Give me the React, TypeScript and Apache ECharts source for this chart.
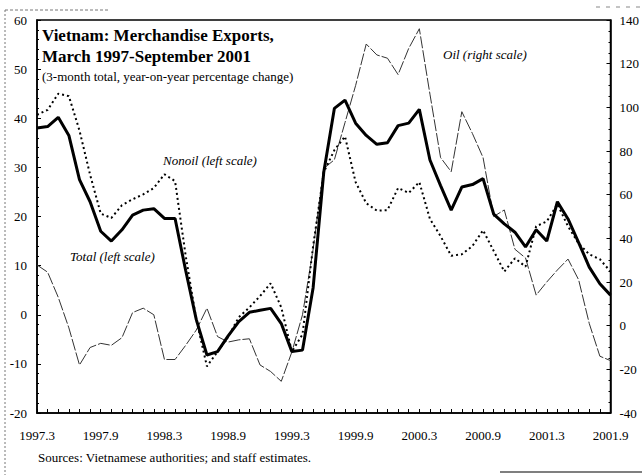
import React, { useEffect, useRef } from "react";
import * as echarts from "echarts";

// Monthly categories, March 1997 - September 2001
const startYear = 1997;
const startMonth = 3;
const monthCount = 55;
const months: string[] = [];
for (let k = 0; k < monthCount; k++) {
  const m = startMonth - 1 + k;
  months.push(`${startYear + Math.floor(m / 12)}.${(m % 12) + 1}`);
}

// Total (left scale), %
const total = [
  38, 38.3, 40.2, 36.5, 27.5, 23, 17, 15, 17.3, 20.3,
  21.3, 21.6, 19.6, 19.6, 9, -1, -8.2, -7.5, -4.3, -1.4,
  0.5, 0.9, 1.3, -1.8, -7.5, -7.2, 5.5, 29, 42, 43.7,
  39, 36.5, 34.7, 35, 38.5, 39, 41.8, 31.5, 26.3, 21.3,
  26, 26.5, 27.7, 20.5, 18.5, 16.8, 13.8, 17.3, 15, 23,
  19.5, 14.7, 9.7, 6.3, 4,
];

// Nonoil (left scale), %
const nonoil = [
  40.7, 41.7, 45, 44.5, 37.5, 28.5, 20.6, 19.7, 22.3, 23.5,
  24.5, 25.8, 28.6, 27.2, 12, -1, -10.5, -7.5, -4.5, -0.5,
  1.5, 3.8, 6.4, 1.5, -7.5, -4, 14, 29, 33.5, 36.3,
  27, 22.7, 21.2, 21.3, 25.8, 24.8, 27, 19.5, 16, 12,
  12.3, 14, 17.2, 13, 8.8, 11.5, 9.8, 18, 19, 22.5,
  18, 14.5, 12.3, 11.3, 8.8,
];

// Oil (right scale), %
const oil = [
  27.8, 24.5, 13, -1, -18, -10, -8.1, -9, -5.5, 6,
  8, 5, -15.5, -15.5, -9, -2, 8, -5, -7.5, -6.5,
  -6, -18, -21, -25.5, -12, 5, 35, 72, 76, 93,
  110, 129, 124, 122.5, 115, 127, 136, 106, 77, 70.5,
  98, 88, 77, 50, 53, 35, 31, 14, 20, 25.5,
  30.5, 21, 1, -14, -16,
];

const titleLines = [
  "Vietnam: Merchandise Exports,",
  "March 1997-September 2001",
  "(3-month total, year-on-year percentage change)",
];
const sourceText = "Sources: Vietnamese authorities; and staff estimates.";

const SERIF = "'Liberation Serif','Times New Roman',serif";

export default function App() {
  const ref = useRef<HTMLDivElement>(null);
  useEffect(() => {
    if (!ref.current) return;
    const chart = echarts.init(ref.current, undefined, { renderer: "svg" });
    const axisText = { color: "#000", fontFamily: SERIF, fontSize: 13 };
    const option: any = {
      animation: false,
      backgroundColor: "#fff",
      grid: {
        left: 37,
        right: 25,
        top: 20,
        bottom: 62,
        show: true,
        borderColor: "#000",
        borderWidth: 1.5,
      },
      xAxis: {
        type: "category",
        data: months,
        boundaryGap: false,
        axisLine: { onZero: false, lineStyle: { color: "#000", width: 1.5 } },
        axisTick: { interval: 0, inside: true, length: 4, lineStyle: { color: "#000" } },
        axisLabel: { interval: 5, margin: 16, ...axisText },
        splitLine: { show: false },
      },
      yAxis: [
        {
          type: "value",
          min: -20,
          max: 60,
          interval: 10,
          position: "left",
          axisLine: { show: true, lineStyle: { color: "#000", width: 1.5 } },
          axisTick: { show: true, inside: true, length: 4, lineStyle: { color: "#000" } },
          minorTick: { show: true, splitNumber: 5, length: 2, lineStyle: { color: "#000" } },
          axisLabel: { margin: 10, ...axisText },
          splitLine: { show: false },
        },
        {
          type: "value",
          min: -40,
          max: 140,
          interval: 20,
          position: "right",
          axisLine: { show: true, lineStyle: { color: "#000", width: 1.5 } },
          axisTick: { show: true, inside: true, length: 4, lineStyle: { color: "#000" } },
          minorTick: { show: true, splitNumber: 4, length: 2, lineStyle: { color: "#000" } },
          axisLabel: { margin: 9, ...axisText },
          splitLine: { show: false },
        },
      ],
      series: [
        {
          name: "Oil",
          type: "line",
          yAxisIndex: 1,
          data: oil,
          showSymbol: false,
          z: 1,
          lineStyle: { color: "#333", width: 1, type: [12, 2] },
        },
        {
          name: "Nonoil",
          type: "line",
          yAxisIndex: 0,
          data: nonoil,
          showSymbol: false,
          z: 2,
          lineStyle: { color: "#000", width: 2, type: [2, 3] },
        },
        {
          name: "Total",
          type: "line",
          yAxisIndex: 0,
          data: total,
          showSymbol: false,
          z: 3,
          lineStyle: { color: "#000", width: 3 },
        },
      ],
      graphic: [
        { type: "text", left: 42, top: 27, style: { text: titleLines[0], font: `bold 17px ${SERIF}`, fill: "#000" } },
        { type: "text", left: 42, top: 48, style: { text: titleLines[1], font: `bold 17px ${SERIF}`, fill: "#000" } },
        { type: "text", left: 42, top: 70, style: { text: titleLines[2], font: `13px ${SERIF}`, fill: "#000" } },
        { type: "text", left: 163, top: 154, style: { text: "Nonoil (left scale)", font: `italic 13px ${SERIF}`, fill: "#000" } },
        { type: "text", left: 70, top: 250, style: { text: "Total (left scale)", font: `italic 13px ${SERIF}`, fill: "#000" } },
        { type: "text", left: 443, top: 48, style: { text: "Oil (right scale)", font: `italic 13px ${SERIF}`, fill: "#000" } },
        { type: "text", left: 38, top: 451, style: { text: sourceText, font: `13px ${SERIF}`, fill: "#000" } },
        // scan frame remnants
        { type: "line", shape: { x1: 5, y1: 10, x2: 5, y2: 475 }, style: { stroke: "#777", lineWidth: 1, lineDash: [2, 2] } },
        { type: "line", shape: { x1: 5, y1: 10, x2: 110, y2: 10 }, style: { stroke: "#777", lineWidth: 1, lineDash: [3, 2] } },
        { type: "line", shape: { x1: 500, y1: 472, x2: 642, y2: 472 }, style: { stroke: "#555", lineWidth: 1.5 } },
        { type: "line", shape: { x1: 596, y1: 7, x2: 642, y2: 7 }, style: { stroke: "#888", lineWidth: 1, lineDash: [4, 6] } },
      ],
    };
    chart.setOption(option);
    return () => chart.dispose();
  }, []);
  return (
    <div
      ref={ref}
      style={{ position: "absolute", left: 0, top: 0, width: 642, height: 475, background: "#fff" }}
    />
  );
}
